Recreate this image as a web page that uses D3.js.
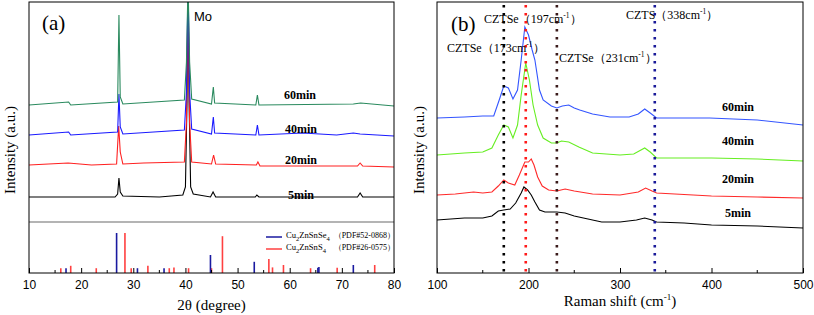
<!DOCTYPE html>
<html>
<head>
<meta charset="utf-8">
<title>XRD and Raman</title>
<script src="https://cdn.jsdelivr.net/npm/d3@7"></script>
<style>
body { margin:0; background:#fff; }
.tick text { font-family:"Liberation Sans", Arial, sans-serif; font-size:12px; }
</style>
</head>
<body>
<script>
// ---- panel (a): XRD, [2theta, intensity incl. offset]
var xrd5 = [[10,25],[17.5,25],[26.5,25],[27.0,28],[27.25,44],[27.5,30],[28,26],[35,25],[39.5,27],[40.0,35],[40.3,120],[40.5,240],[40.7,120],[41.0,35],[41.5,28],[44.8,25],[45.3,30],[45.8,25],[53.4,25],[53.7,27],[54.1,25],[73.0,25],[73.5,29],[74.0,25],[80,25]];
var xrd20 = [[10,57],[17.5,59],[22,57],[26.8,58],[27.2,96],[27.5,70],[28,58],[32,59],[39.8,60],[40.2,100],[40.5,240],[40.8,100],[41.2,60],[45.0,58],[45.4,67],[45.8,58],[53.6,57],[53.9,60],[54.3,56],[73.0,56],[73.5,59],[74.0,56],[80,55]];
var xrd40 = [[10,87],[17.6,90],[18,87],[27.0,90],[27.25,128],[27.5,95],[28,88],[39.8,92],[40.2,130],[40.5,240],[40.8,130],[41.2,93],[45.0,88],[45.35,105],[45.6,89],[53.5,87],[53.8,97],[54.1,87],[62.5,89],[69,87],[72.2,89],[73.5,88],[80,86]];
var xrd60 = [[10,117],[17.6,120],[18,117],[27.0,120],[27.25,207],[27.5,125],[28,118],[39.8,122],[40.2,160],[40.5,240],[40.8,160],[41.2,123],[45.0,118],[45.35,135],[45.6,119],[53.5,117],[53.8,127],[54.1,117],[72.2,118],[73.6,119],[80,116]];
var xrdNames = ["5min","20min","40min","60min"];
var xrdColors = ["#000000","#ff2020","#1a1aff","#2a8a5e"];

// reference sticks [2theta, relative intensity]
var pdfSe = [[17.1,12],[26.8,100],[30.8,12],[35.9,12],[44.8,45],[53.2,28],[65.4,13],[65.6,15],[72.2,20]];
var pdfS = [[16.1,12],[18.0,18],[22.9,12],[28.4,100],[29.6,12],[32.8,18],[36.9,12],[37.8,14],[40.6,12],[45.0,12],[47.1,92],[56.0,35],[56.7,14],[58.8,20],[64.0,12],[69.1,13],[76.3,20]];

// ---- panel (b): Raman, [shift, intensity incl. offset]
var ram5 = [[100,53],[130,55],[150,55],[160,57],[167,62],[173,63],[180,64],[186,70],[192,80],[195,86],[199,83],[203,78],[207,71],[212,63],[218,61],[231,61],[240,60],[250,57],[265,54],[280,51],[300,51],[318,53],[327,55],[335,53],[340,51],[370,50],[400,48],[450,47],[500,45]];
var ram20 = [[100,78],[120,79],[140,81],[150,80],[160,81],[167,87],[173,93],[178,90],[185,88],[190,98],[196,111],[200,111],[203,114],[206,108],[210,96],[215,87],[222,83],[231,82],[240,84],[250,82],[270,79],[300,78],[320,81],[328,85],[335,82],[340,80],[400,77],[450,76],[500,75]];
var ram40 = [[100,118],[130,120],[150,121],[160,125],[167,138],[173,148],[178,146],[183,135],[188,148],[192,178],[197,210],[201,193],[205,168],[210,148],[216,135],[225,130],[231,130],[236,132],[244,131],[255,126],[270,120],[300,118],[315,119],[327,125],[333,121],[340,115],[400,115],[450,114],[500,112]];
var ram60 = [[100,155],[130,156],[150,157],[162,157],[168,173],[173,187],[178,185],[183,174],[188,183],[192,213],[196,246],[200,238],[204,223],[207,213],[212,183],[216,173],[225,167],[231,165],[237,167],[244,168],[250,165],[256,163],[270,159],[289,156],[310,156],[320,159],[327,164],[333,160],[340,155],[370,155],[398,155],[450,153],[500,148]];
var ramColors = ["#000000","#ff2a2a","#66ee22","#3355ff"];
var modes = [173,197,231,338];
var modeColors = ["#000000","#ff1a1a","#3a1a1a","#1a1a99"];

var SERIF = "'Liberation Serif', 'DejaVu Serif', serif";
var SANS = "'Liberation Sans', Arial, sans-serif";

var svg = d3.select("body").append("svg").attr("width",814).attr("height",315);

// ================= panel (a)
var xa = d3.scaleLinear().domain([10,80]).range([29,394]);
var ya = d3.scaleLinear().domain([0,220]).range([222,2]);
var ys = d3.scaleLinear().domain([0,100]).range([273,233]);

svg.append("clipPath").attr("id","clipA").append("rect")
	.attr("x",29).attr("y",2).attr("width",365).attr("height",220);

var lineA = d3.line().x(function(d){return xa(d[0])}).y(function(d){return ya(d[1])});
var ga = svg.append("g").attr("clip-path","url(#clipA)");
[xrd5,xrd20,xrd40,xrd60].forEach(function(s,i){
	ga.append("path").datum(s).attr("d",lineA)
		.attr("fill","none").attr("stroke",xrdColors[i]).attr("stroke-width",1.1);
});

// separator
svg.append("line").attr("x1",29).attr("x2",394).attr("y1",222).attr("y2",222)
	.attr("stroke","#b4b4b4").attr("stroke-width",2);

// sticks
svg.selectAll(".stS").data(pdfS).enter().append("line")
	.attr("x1",function(d){return xa(d[0])}).attr("x2",function(d){return xa(d[0])})
	.attr("y1",ys(0)).attr("y2",function(d){return ys(d[1])})
	.attr("stroke","#ff4040").attr("stroke-width",1.6);
svg.selectAll(".stSe").data(pdfSe).enter().append("line")
	.attr("x1",function(d){return xa(d[0])}).attr("x2",function(d){return xa(d[0])})
	.attr("y1",ys(0)).attr("y2",function(d){return ys(d[1])})
	.attr("stroke","#1a1aa0").attr("stroke-width",1.6);

// frame + axis
svg.append("rect").attr("x",29).attr("y",2).attr("width",365).attr("height",271)
	.attr("fill","none").attr("stroke","#000").attr("stroke-width",1);
var axA = svg.append("g").attr("transform","translate(0,273)")
	.call(d3.axisBottom(xa).tickValues(d3.range(10,81,10)).tickSizeInner(-5).tickSizeOuter(0).tickPadding(7));
axA.append("g").selectAll("line").data(d3.range(15,80,10)).enter().append("line")
	.attr("x1",function(d){return xa(d)}).attr("x2",function(d){return xa(d)})
	.attr("y1",0).attr("y2",-3).attr("stroke","#000");
axA.select(".domain").remove();

svg.append("text").attr("font-family",SERIF).attr("x",xa(45)).attr("y",310)
	.attr("text-anchor","middle").attr("font-size",15).text("2θ (degree)");
svg.append("text").attr("font-family",SERIF).attr("transform","translate(15,150) rotate(-90)")
	.attr("text-anchor","middle").attr("font-size",15).text("Intensity (a.u.)");
svg.append("text").attr("font-family",SERIF).attr("x",42).attr("y",30).attr("font-size",21).text("(a)");
svg.append("text").attr("x",194).attr("y",21).attr("font-family",SANS)
	.attr("font-size",13).text("Mo");

var labA = [[301,199],[301,164],[301,133],[300,99]];
xrdNames.forEach(function(n,i){
	svg.append("text").attr("font-family",SERIF).attr("x",labA[i][0]).attr("y",labA[i][1])
		.attr("text-anchor","middle").attr("font-weight","bold").attr("font-size",12).text(n);
});

// legend
var leg = [["Se","（PDF#52-0868）","#1a1aa0",237],["S","（PDF#26-0575）","#ff4040",249]];
leg.forEach(function(l){
	svg.append("line").attr("x1",266).attr("x2",282).attr("y1",l[3]).attr("y2",l[3])
		.attr("stroke",l[2]).attr("stroke-width",1.5);
	var t = svg.append("text").attr("font-family",SERIF).attr("x",286).attr("y",l[3]+1).attr("font-size",8.6);
	t.append("tspan").text("Cu");
	t.append("tspan").attr("dy",3).attr("font-size",6.5).text("2");
	t.append("tspan").attr("dy",-3).text("ZnSn"+l[0]);
	t.append("tspan").attr("dy",3).attr("font-size",6.5).text("4");
	svg.append("text").attr("font-family",SERIF).attr("x",395).attr("y",l[3]+1)
		.attr("text-anchor","end").attr("font-size",8).text(l[1]);
});

// ================= panel (b)
var xb = d3.scaleLinear().domain([100,500]).range([437,803]);
var yb = d3.scaleLinear().domain([0,270]).range([273,3]);
var lineB = d3.line().x(function(d){return xb(d[0])}).y(function(d){return yb(d[1])});

[ram5,ram20,ram40,ram60].forEach(function(s,i){
	svg.append("path").datum(s).attr("d",lineB)
		.attr("fill","none").attr("stroke",ramColors[i]).attr("stroke-width",1.1);
});

svg.selectAll(".mode").data(modes).enter().append("line")
	.attr("x1",function(d){return xb(d)}).attr("x2",function(d){return xb(d)})
	.attr("y1",5).attr("y2",273)
	.attr("stroke",function(d,i){return modeColors[i]})
	.attr("stroke-width",2.6).attr("stroke-dasharray","2.6,5.4");

svg.append("rect").attr("x",437).attr("y",2).attr("width",366).attr("height",271)
	.attr("fill","none").attr("stroke","#000").attr("stroke-width",1);
var axB = svg.append("g").attr("transform","translate(0,273)")
	.call(d3.axisBottom(xb).tickValues(d3.range(100,501,100)).tickSizeInner(-5).tickSizeOuter(0).tickPadding(7));
axB.append("g").selectAll("line").data(d3.range(150,500,100)).enter().append("line")
	.attr("x1",function(d){return xb(d)}).attr("x2",function(d){return xb(d)})
	.attr("y1",0).attr("y2",-3).attr("stroke","#000");
axB.select(".domain").remove();

var xt = svg.append("text").attr("font-family",SERIF).attr("x",xb(300)).attr("y",306)
	.attr("text-anchor","middle").attr("font-size",15);
xt.append("tspan").text("Raman shift (cm");
xt.append("tspan").attr("dy",-6).attr("font-size",9).text("-1");
xt.append("tspan").attr("dy",6).text(")");
svg.append("text").attr("font-family",SERIF).attr("transform","translate(424,150) rotate(-90)")
	.attr("text-anchor","middle").attr("font-size",15).text("Intensity (a.u.)");
svg.append("text").attr("font-family",SERIF).attr("x",451).attr("y",31).attr("font-size",21).text("(b)");

var ann = [["CZTSe（197cm","）",484,23],["CZTSe（173cm","）",447,52],["CZTSe（231cm","）",559,62],["CZTS（338cm","）",626,19]];
ann.forEach(function(a){
	var t = svg.append("text").attr("font-family",SERIF).attr("x",a[2]).attr("y",a[3]).attr("font-size",12);
	t.append("tspan").text(a[0]);
	t.append("tspan").attr("dy",-5).attr("font-size",7.5).text("-1");
	t.append("tspan").attr("dy",5).text(a[1]);
});

var labB = [[738,217],[738,183],[738,145],[738,111]];
xrdNames.forEach(function(n,i){
	svg.append("text").attr("font-family",SERIF).attr("x",labB[i][0]).attr("y",labB[i][1])
		.attr("text-anchor","middle").attr("font-weight","bold").attr("font-size",12).text(n);
});
</script>
</body>
</html>
